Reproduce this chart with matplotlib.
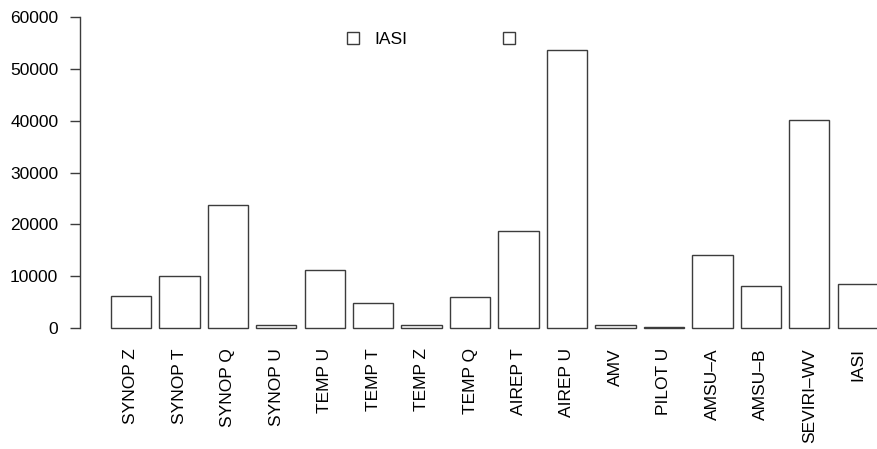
import numpy as np
import matplotlib
matplotlib.use("Agg")
import matplotlib.pyplot as plt
from matplotlib.patches import Patch

plt.rcParams['font.family'] = ['Liberation Sans', 'DejaVu Sans']

# Кількість спостережень за типами
categories = ['SYNOP Z', 'SYNOP T', 'SYNOP Q', 'SYNOP U', 'TEMP U', 'TEMP T',
              'TEMP Z', 'TEMP Q', 'AIREP T', 'AIREP U', 'AMV', 'PILOT U',
              'AMSU\u2013A', 'AMSU\u2013B', 'SEVIRI\u2013WV', 'IASI']
counts = [6250, 10000, 23800, 500, 11250, 4850,
          650, 6000, 18700, 53600, 650, 150,
          14000, 8100, 40100, 8500]
y_ticks = [0, 10000, 20000, 30000, 40000, 50000, 60000]
legend_labels = ['IASI', '']

W, H = 878, 449
line_col = '#3c3c3c'
fig = plt.figure(figsize=(W / 100, H / 100), dpi=100)

# вісь як у R barplot: width=1, space=0.2, 4% запас
ax = fig.add_axes([80 / W, (H - 340.4) / H, 828.6 / W, 335.5 / H])

x = 0.7 + 1.2 * np.arange(len(categories))
ax.bar(x, counts, width=1.0, color='white', edgecolor=line_col, linewidth=1.0)

ax.set_xlim(-0.56, 19.96)
ax.set_ylim(-2400, 62400)

for s in ['top', 'right', 'bottom']:
    ax.spines[s].set_visible(False)
ax.spines['left'].set_bounds(0, 60000)
ax.spines['left'].set_color(line_col)
ax.spines['left'].set_linewidth(1.0)

ax.set_yticks(y_ticks)
ax.set_yticklabels([str(v) for v in y_ticks])
ax.tick_params(axis='y', length=7.2, width=1.0, color=line_col, pad=8.4,
               labelsize=12.5)
ax.set_xticks(x)
ax.set_xticklabels(categories, rotation=90)
ax.tick_params(axis='x', length=0, pad=5.5, labelsize=12.5)

handles = [Patch(facecolor='white', edgecolor=line_col, linewidth=1.0),
           Patch(facecolor='white', edgecolor=line_col, linewidth=1.0)]
fig.legend(handles, legend_labels, ncol=2, frameon=False, fontsize=12.5,
           loc='center left', bbox_to_anchor=(346.7 / W, (H - 39.5) / H),
           borderpad=0, borderaxespad=0, handlelength=0.7, handleheight=0.7,
           handletextpad=0.9, columnspacing=5.5)

fig.savefig('out.png', dpi=100)
